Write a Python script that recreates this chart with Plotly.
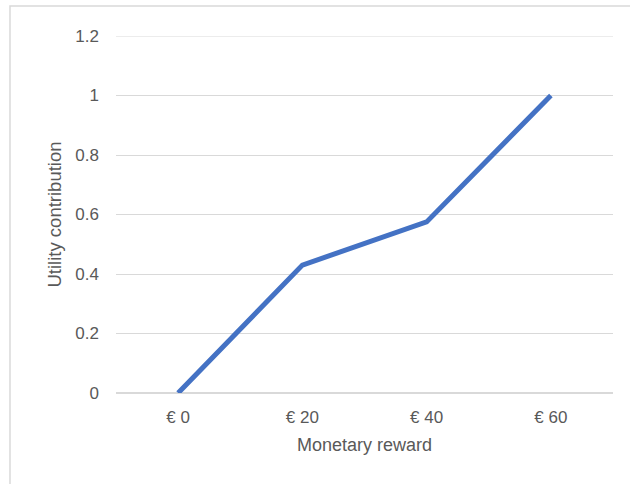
import plotly.graph_objects as go

rewards = ["€ 0", "€ 20", "€ 40", "€ 60"]
utility = [0.0, 0.43, 0.575, 1.0]

y_ticks = [0, 0.2, 0.4, 0.6, 0.8, 1.0, 1.2]
y_tick_text = ["0", "0.2", "0.4", "0.6", "0.8", "1", "1.2"]

fig = go.Figure()
fig.add_trace(go.Scatter(
    x=rewards, y=utility, mode="lines",
    line=dict(color="#4472C4", width=5),
    hoverinfo="skip",
))

font = dict(family="Liberation Sans, Arial, sans-serif", size=17, color="#595959")

fig.update_layout(
    width=630, height=484,
    margin=dict(l=116, r=17, t=36, b=91),
    paper_bgcolor="white", plot_bgcolor="white",
    showlegend=False,
    font=font,
    xaxis=dict(
        range=[-0.5, 3.5], showgrid=False, zeroline=False,
        showline=False, ticks="", ticklabelstandoff=12,
        title=dict(text="Monetary reward", standoff=12, font=dict(size=18)),
    ),
    yaxis=dict(
        range=[0, 1.2], tickvals=y_ticks, ticktext=y_tick_text,
        showgrid=True, gridcolor="#d9d9d9", gridwidth=1,
        zeroline=True, zerolinecolor="#d9d9d9", zerolinewidth=2,
        showline=False, ticks="", ticklabelstandoff=16,
        title=dict(text="Utility contribution", standoff=8, font=dict(size=18.5)),
    ),
    shapes=[
        # chart border, partly cut off at the right and bottom
        dict(type="rect", xref="paper", yref="paper",
             x0=-0.2133, x1=1.1, y0=-0.3, y1=1.084,
             line=dict(color="#d9d9d9", width=1.5), layer="below"),
        # top gridline, which plotly skips at the range edge
        dict(type="line", xref="paper", yref="y",
             x0=0, x1=1, y0=y_ticks[-1], y1=y_ticks[-1],
             line=dict(color="#d9d9d9", width=1), layer="below"),
    ],
)

# page body has an 8px default margin; drop it so the figure sits at 0,0
fig.write_html("out.html", config={"displayModeBar": False},
               post_script="document.body.style.margin='0px';")
